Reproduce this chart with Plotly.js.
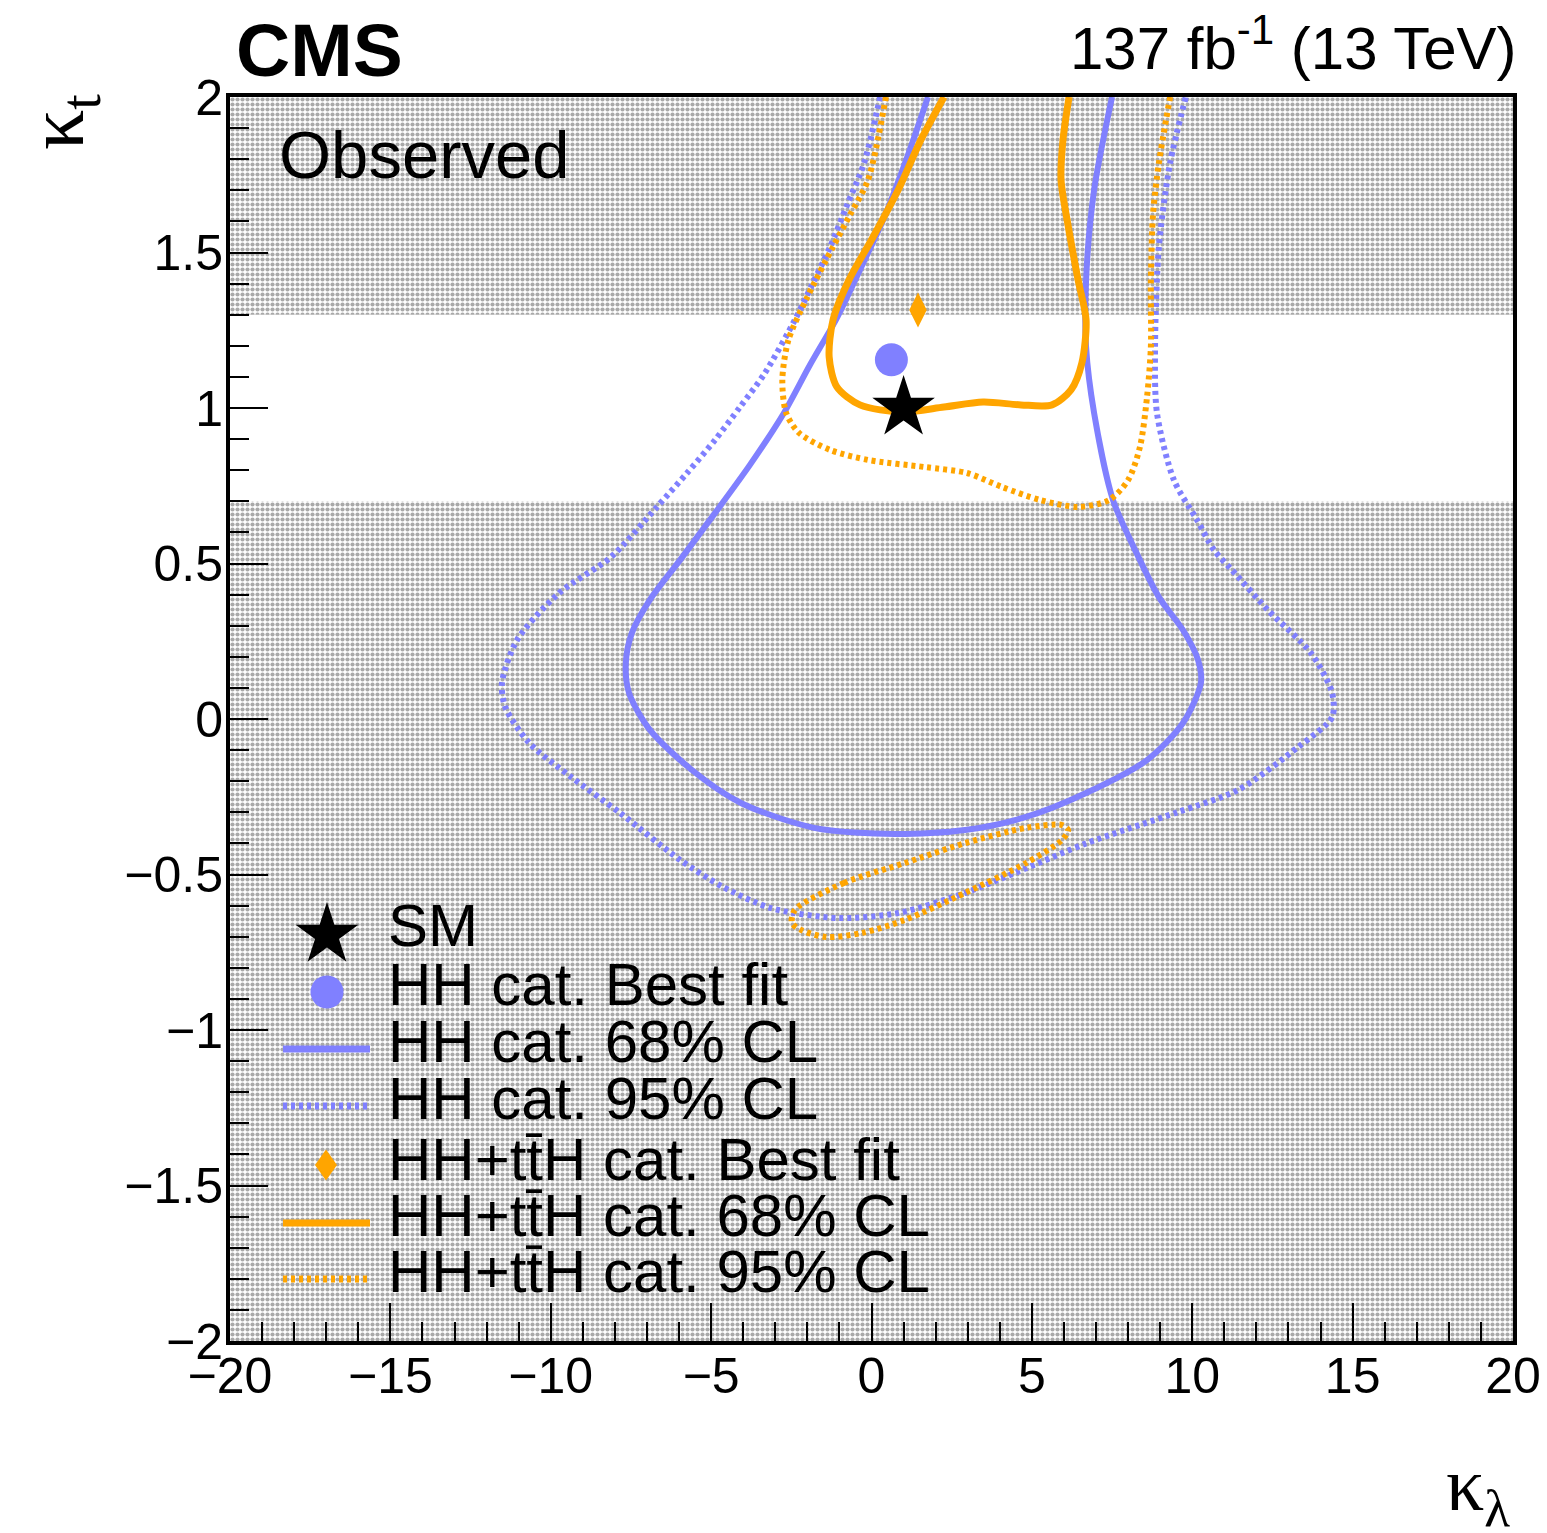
<!DOCTYPE html>
<html>
<head>
<meta charset="utf-8">
<script src="https://cdn.plot.ly/plotly-3.0.1.min.js"></script>
<style>html,body{margin:0;padding:0;background:#fff;}#chart{width:1547px;height:1533px;}</style>
</head>
<body>
<div id="chart"></div>
<script>
// ---------------- data ----------------
const klRange = [-20, 20];
const ktRange = [-2, 2];
// kappa_t band left unshaded
const ktBandLow = 0.7;
const ktBandHigh = 1.3;

// HH categories, 68% CL contour
const kl_hh68 = [1.76, 1.08, 0.36, -0.36, -1.08, -1.92, -2.73, -3.79, -4.88, -5.97, -6.91, -7.47, -7.66, -7.56, -6.91, -5.6, -4.07, -1.79, 0.73, 2.92, 4.82, 6.69, 8.59, 9.71, 10.27, 10.18, 9.71, 8.96, 8.22, 7.53, 6.94, 6.69, 6.69, 6.94, 7.5];
const kt_hh68 = [2.0, 1.797, 1.604, 1.444, 1.289, 1.138, 0.984, 0.817, 0.662, 0.511, 0.383, 0.277, 0.18, 0.084, -0.035, -0.164, -0.27, -0.35, -0.37, -0.357, -0.315, -0.238, -0.132, -0.013, 0.116, 0.19, 0.286, 0.392, 0.543, 0.704, 0.984, 1.196, 1.412, 1.701, 2.0];

// HH categories, 95% CL contour
const kl_hh95 = [0.27, -0.23, -0.76, -1.29, -1.86, -2.39, -3.32, -4.1, -4.88, -5.75, -6.69, -8.12, -9.74, -11.05, -11.52, -11.42, -10.67, -9.37, -7.84, -5.97, -4.63, -3.13, -1.04, 0.83, 2.92, 4.82, 6.69, 9.53, 11.43, 13.3, 14.36, 14.36, 13.7, 12.36, 11.24, 10.68, 10.15, 9.43, 8.9, 8.84, 8.96, 9.31, 9.8];
const kt_hh95 = [2.0, 1.788, 1.653, 1.518, 1.395, 1.283, 1.113, 1.003, 0.897, 0.791, 0.682, 0.521, 0.405, 0.254, 0.116, 0.039, -0.077, -0.186, -0.302, -0.453, -0.54, -0.608, -0.64, -0.624, -0.559, -0.48, -0.4, -0.3, -0.228, -0.09, 0.006, 0.084, 0.212, 0.35, 0.479, 0.543, 0.64, 0.768, 0.984, 1.196, 1.518, 1.788, 2.0];

// HH + ttH categories, 68% CL contour
const kl_comb68 = [2.26, 1.54, 0.83, 0.05, -0.7, -1.2, -1.32, -1.08, -0.36, 0.95, 2.26, 3.48, 4.66, 5.63, 6.22, 6.56, 6.69, 6.44, 6.1, 5.91, 5.97, 6.16];
const kt_comb68 = [2.0, 1.862, 1.701, 1.55, 1.412, 1.283, 1.164, 1.068, 1.01, 0.987, 1.003, 1.019, 1.01, 1.01, 1.058, 1.145, 1.283, 1.412, 1.604, 1.733, 1.862, 2.0];

// HH + ttH categories, 95% CL contour (main region)
const kl_comb95 = [0.45, -0.11, -0.67, -1.2, -2.0, -2.59, -2.78, -2.66, -2.26, -1.29, -0.11, 1.67, 2.98, 4.07, 5.26, 6.44, 7.41, 8.0, 8.37, 8.59, 8.71, 8.71, 8.78, 8.96, 9.31];
const kt_comb95 = [2.0, 1.733, 1.621, 1.518, 1.357, 1.219, 1.09, 0.984, 0.92, 0.865, 0.833, 0.81, 0.791, 0.746, 0.704, 0.682, 0.704, 0.768, 0.875, 1.035, 1.196, 1.412, 1.627, 1.788, 2.0];

// HH + ttH categories, 95% CL contour (island at negative kappa_t)
const kl_comb95b = [-2.39, -0.86, 1.04, 2.92, 4.82, 5.94, 6.13, 5.94, 4.82, 2.92, 1.04, -0.3, -1.42, -2.2, -2.48, -2.39];
const kt_comb95b = [-0.614, -0.527, -0.463, -0.399, -0.35, -0.341, -0.357, -0.389, -0.463, -0.559, -0.646, -0.688, -0.701, -0.678, -0.656, -0.614];

// points
const smPoint = [1.0, 1.0];
const hhBestFit = [0.62, 1.155];
const combBestFit = [1.45, 1.315];

// tick settings
const klMajorStep = 5, klMinorStep = 1;
const ktMajorStep = 0.5, ktMinorStep = 0.1;

// legend labels
const legendLabels = [
  "SM",
  "HH cat. Best fit",
  "HH cat. 68% CL",
  "HH cat. 95% CL",
  "HH+tt\u0304H cat. Best fit",
  "HH+tt\u0304H cat. 68% CL",
  "HH+tt\u0304H cat. 95% CL"
];

// ---------------- styles ----------------
const BLUE = "#8080ff";
const ORANGE = "#ffa500";
const FONT = "Liberation Sans, Arial, Helvetica, sans-serif";
const SERIF = "Liberation Serif, Times New Roman, serif";

const W = 1547, H = 1533;
const M = {l: 230, r: 34, t: 97, b: 192};
const PW = W - M.l - M.r, PH = H - M.t - M.b;
const px2x = p => (p - M.l) / PW;           // pixel -> paper x
const py2y = p => (H - M.b - p) / PH;       // pixel -> paper y

const dotted = "4px,4px";

// ---------------- traces ----------------
const pattern = {shape: ".", size: 5, solidity: 0.55, fgcolor: "#a9a9a9", bgcolor: "#ffffff", fillmode: "replace"};
const traces = [
  {x: [klRange[0], klRange[1], klRange[1], klRange[0]], y: [ktRange[0], ktRange[0], ktBandLow, ktBandLow],
   mode: "none", fill: "toself", fillcolor: "#d9d9d9", fillpattern: pattern, hoverinfo: "skip", showlegend: false},
  {x: [klRange[0], klRange[1], klRange[1], klRange[0]], y: [ktBandHigh, ktBandHigh, ktRange[1], ktRange[1]],
   mode: "none", fill: "toself", fillcolor: "#d9d9d9", fillpattern: pattern, hoverinfo: "skip", showlegend: false},
  {x: kl_hh95, y: kt_hh95, mode: "lines", name: legendLabels[3],
   line: {color: BLUE, width: 6, dash: dotted, shape: "spline", smoothing: 0.8}, showlegend: false},
  {x: kl_hh68, y: kt_hh68, mode: "lines", name: legendLabels[2],
   line: {color: BLUE, width: 6, shape: "spline", smoothing: 0.8}, showlegend: false},
  {x: kl_comb95, y: kt_comb95, mode: "lines", name: legendLabels[6],
   line: {color: ORANGE, width: 6, dash: dotted, shape: "spline", smoothing: 0.8}, showlegend: false},
  {x: kl_comb95b, y: kt_comb95b, mode: "lines", name: legendLabels[6] + " (island)",
   line: {color: ORANGE, width: 6, dash: dotted, shape: "spline", smoothing: 0.8}, showlegend: false},
  {x: kl_comb68, y: kt_comb68, mode: "lines", name: legendLabels[5],
   line: {color: ORANGE, width: 7, shape: "spline", smoothing: 0.8}, showlegend: false},
  {x: [smPoint[0]], y: [smPoint[1]], mode: "markers", name: legendLabels[0],
   marker: {symbol: "star", size: 47, color: "#000000", line: {width: 0}}, showlegend: false},
  {x: [hhBestFit[0]], y: [hhBestFit[1]], mode: "markers", name: legendLabels[1],
   marker: {symbol: "circle", size: 33, color: BLUE, line: {width: 0}}, showlegend: false},
  {x: [combBestFit[0]], y: [combBestFit[1]], mode: "markers", name: legendLabels[4],
   marker: {symbol: "diamond-tall", size: 25, color: ORANGE, line: {width: 0}}, showlegend: false}
];

// ---------------- manual legend (layout decoration) ----------------
const rowY = [926, 984, 1041, 1098, 1159, 1215, 1271];
const symX = 327;
const shapes = [];
const annotations = [];

function starPath(cx, cy, R) {
  const r = R * 0.382;
  let d = "";
  for (let i = 0; i < 10; i++) {
    const rad = (i % 2 === 0) ? R : r;
    const a = -Math.PI / 2 + i * Math.PI / 5;
    const xp = cx + rad * Math.cos(a), yp = cy + rad * Math.sin(a);
    d += (i === 0 ? "M" : "L") + px2x(xp).toFixed(5) + "," + py2y(yp).toFixed(5);
  }
  return d + "Z";
}
function diamondPath(cx, cy, w, h) {
  return "M" + px2x(cx).toFixed(5) + "," + py2y(cy - h / 2).toFixed(5) +
         "L" + px2x(cx + w / 2).toFixed(5) + "," + py2y(cy).toFixed(5) +
         "L" + px2x(cx).toFixed(5) + "," + py2y(cy + h / 2).toFixed(5) +
         "L" + px2x(cx - w / 2).toFixed(5) + "," + py2y(cy).toFixed(5) + "Z";
}
// star
shapes.push({type: "path", xref: "paper", yref: "paper", path: starPath(symX, rowY[0] + 9, 33), fillcolor: "#000", line: {width: 0}});
// circle
shapes.push({type: "circle", xref: "paper", yref: "paper", x0: px2x(symX - 16.5), x1: px2x(symX + 16.5),
  y0: py2y(rowY[1] + 8 + 16.5), y1: py2y(rowY[1] + 8 - 16.5), fillcolor: BLUE, line: {width: 0}});
// lines
const lineRows = [[2, BLUE, "solid"], [3, BLUE, dotted], [5, ORANGE, "solid"], [6, ORANGE, dotted]];
lineRows.forEach(([i, c, d]) => {
  shapes.push({type: "line", xref: "paper", yref: "paper", x0: px2x(283), x1: px2x(370),
    y0: py2y(rowY[i] + 8), y1: py2y(rowY[i] + 8), line: {color: c, width: 7, dash: d}});
});
// diamond
shapes.push({type: "path", xref: "paper", yref: "paper", path: diamondPath(symX - 1, rowY[4] + 6, 22, 31), fillcolor: ORANGE, line: {width: 0}});

legendLabels.forEach((t, i) => {
  annotations.push({text: t, xref: "paper", yref: "paper", x: px2x(386), y: py2y(rowY[i]),
    xanchor: "left", yanchor: "middle", showarrow: false, font: {family: FONT, size: 60, color: "#000"}});
});

// header texts and axis titles
annotations.push({text: "<b>CMS</b>", xref: "paper", yref: "paper", x: px2x(234), y: py2y(50),
  xanchor: "left", yanchor: "middle", showarrow: false, font: {family: FONT, size: 75, color: "#000"}});
annotations.push({text: "137 fb<sup>-1</sup> (13 TeV)", xref: "paper", yref: "paper", x: px2x(1519), y: py2y(44),
  xanchor: "right", yanchor: "middle", showarrow: false, font: {family: FONT, size: 60, color: "#000"}});
annotations.push({text: "Observed", xref: "paper", yref: "paper", x: px2x(277), y: py2y(155),
  xanchor: "left", yanchor: "middle", showarrow: false, font: {family: FONT, size: 67, color: "#000"}});
annotations.push({text: "\u03ba<sub>t</sub>", xref: "paper", yref: "paper", x: px2x(62), y: py2y(122),
  xanchor: "center", yanchor: "middle", textangle: -90, showarrow: false, font: {family: SERIF, size: 80, color: "#000"}});
annotations.push({text: "\u03ba<sub>\u03bb</sub>", xref: "paper", yref: "paper", x: px2x(1478), y: py2y(1490),
  xanchor: "center", yanchor: "middle", showarrow: false, font: {family: SERIF, size: 76, color: "#000"}});

const axisCommon = {
  showgrid: false, zeroline: false, showline: true, linecolor: "#000", linewidth: 4, mirror: true,
  ticks: "inside", ticklen: 38, tickwidth: 2, tickcolor: "#000",
  tickfont: {family: FONT, size: 50, color: "#000"}
};

const layout = {
  width: W, height: H,
  margin: M,
  paper_bgcolor: "#ffffff", plot_bgcolor: "#ffffff",
  showlegend: false,
  xaxis: Object.assign({}, axisCommon, {range: klRange, dtick: klMajorStep, tick0: 0, ticklabelstandoff: -12,
    minor: {dtick: klMinorStep, ticks: "inside", ticklen: 19, tickwidth: 2, tickcolor: "#000"}}),
  yaxis: Object.assign({}, axisCommon, {range: ktRange, dtick: ktMajorStep, tick0: 0, ticklabelstandoff: -7,
    minor: {dtick: ktMinorStep, ticks: "inside", ticklen: 19, tickwidth: 2, tickcolor: "#000"}}),
  shapes: shapes,
  annotations: annotations
};

Plotly.newPlot("chart", traces, layout, {displayModeBar: false, staticPlot: true});
</script>
</body>
</html>
